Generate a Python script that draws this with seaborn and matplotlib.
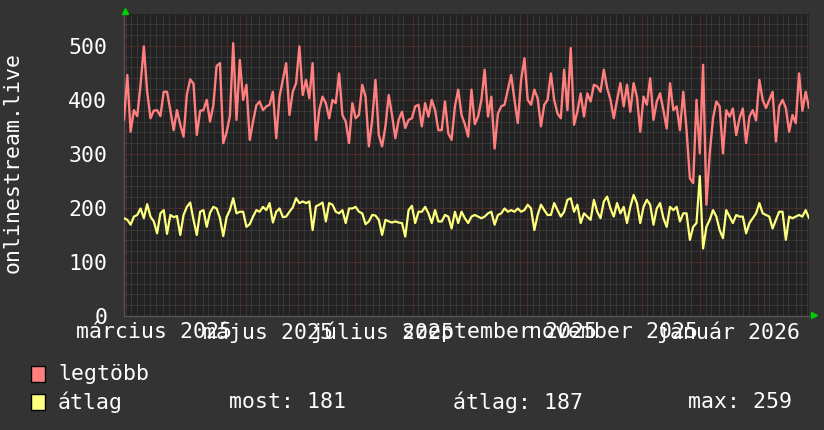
import matplotlib
matplotlib.use("Agg")
import matplotlib.pyplot as plt
import matplotlib.dates as mdates
from matplotlib.patches import Rectangle
from matplotlib.lines import Line2D
import pandas as pd
import seaborn as sns

# ---- data ----
legtobb = [
    363, 446, 341, 381, 370, 428, 499, 415, 366, 380, 381, 370, 415, 415, 381, 344, 381, 354, 332, 410,
    438, 430, 335, 380, 381, 400, 360, 390, 463, 468, 320, 340, 370, 505, 363, 474, 400, 428, 326, 360, 390,
    397, 381, 388, 391, 415, 329, 406, 437, 468, 372, 415, 431, 499, 409, 437, 403, 468, 326, 381, 406,
    394, 366, 400, 394, 449, 372, 360, 320, 394, 366, 372, 428, 406, 314, 363, 437, 335, 314, 351, 409, 372, 329,
    363, 378, 348, 363, 366, 388, 391, 351, 394, 369, 400, 381, 344, 344, 397, 338, 326, 388, 419, 372,
    355, 332, 419, 355, 369, 400, 456, 369, 406, 310, 375, 388, 391, 419, 446, 400, 357, 437, 477, 400, 391, 419,
    403, 351, 391, 400, 449, 400, 375, 366, 456, 381, 496, 354, 378, 412, 369, 412, 397, 428, 425, 415,
    456, 422, 400, 366, 400, 431, 388, 428, 378, 431, 406, 341, 406, 391, 440, 363, 397, 412, 381, 347, 431, 381,
    388, 344, 415, 344, 255, 246, 400, 301, 465, 206, 301, 366, 397, 388, 301, 381, 369, 384, 335, 366,
    384, 320, 369, 381, 362, 437, 400, 385, 400, 415, 323, 388, 400, 385, 341, 372, 357, 449, 380, 415, 385,
]
atlag = [
    181, 178, 169, 184, 187, 199, 181, 207, 184, 175, 153, 190, 196, 152, 187, 183, 185, 150, 187, 202,
    210, 178, 150, 193, 196, 165, 191, 202, 199, 181, 148, 183, 196, 218, 190, 193, 193, 165, 170, 184, 196,
    193, 202, 196, 209, 173, 193, 199, 183, 184, 193, 201, 218, 209, 212, 209, 212, 159, 203, 206, 210,
    175, 209, 206, 193, 190, 196, 172, 199, 199, 202, 193, 190, 170, 175, 187, 186, 178, 150, 178, 175, 173, 175,
    173, 172, 147, 196, 204, 172, 193, 193, 202, 190, 172, 196, 175, 175, 187, 184, 162, 193, 172, 193,
    181, 172, 184, 187, 184, 181, 184, 190, 193, 169, 187, 190, 199, 193, 196, 193, 199, 193, 196, 206, 199, 159,
    187, 206, 196, 187, 187, 209, 196, 184, 193, 215, 218, 193, 206, 172, 190, 184, 178, 215, 193, 181,
    212, 221, 199, 184, 209, 190, 202, 172, 202, 224, 209, 172, 202, 215, 206, 169, 199, 209, 181, 165, 202, 196,
    202, 175, 190, 190, 141, 165, 172, 259, 125, 165, 178, 196, 184, 159, 144, 196, 184, 172, 187, 184,
    184, 153, 172, 181, 190, 209, 190, 187, 184, 162, 178, 193, 193, 141, 184, 181, 184, 187, 184, 196, 181,
]
start_time = "2025-02-28 02:00"
end_time = "2026-02-28 02:00"
label_dates = ["2025-03-16", "2025-05-16", "2025-07-16", "2025-09-16", "2025-11-16", "2026-01-16"]
label_texts = ["március 2025", "május 2025", "július 2025", "szeptember 2025", "november 2025", "január 2026"]
y_ticks = [0, 100, 200, 300, 400, 500]
series_names = ["legtöbb", "átlag"]
stat_labels = ["most:", "átlag:", "max:"]
stat_values = [181, 187, 259]
y_title = "onlinestream.live"

# ---- style ----
sns.set_style("dark")
plt.rcParams["font.family"] = ["DejaVu Sans Mono", "DejaVu Sans"]
FS = 15.5
BG = "#333333"
PLOT_BG = "#222222"
RED = "#ff7f7f"
YEL = "#ffff7f"
MINOR_GRID = "#4a4a4a"
MAJOR_GRID = "#743232"
TXT = "#ffffff"

W, H = 824, 430
fig = plt.figure(figsize=(W / 100, H / 100), dpi=100, facecolor=BG)
x0, x1, yb, yt = 124, 809, 316, 14
ax = fig.add_axes([x0 / W, 1 - yb / H, (x1 - x0) / W, (yb - yt) / H])
ax.set_facecolor(PLOT_BG)

dates = pd.date_range(start_time, end_time, periods=len(legtobb))
df = pd.DataFrame({"date": dates, series_names[0]: legtobb, series_names[1]: atlag})

sns.lineplot(data=df, x="date", y=series_names[0], color=RED, linewidth=1.7,
             estimator=None, ax=ax, zorder=3)
sns.lineplot(data=df, x="date", y=series_names[1], color=YEL, linewidth=1.6,
             estimator=None, ax=ax, zorder=4)

ax.set_xlim(pd.Timestamp(start_time), pd.Timestamp(end_time))
ax.set_ylim(0, 559)
ax.set_xlabel("")
ax.set_ylabel("")

# grid
dot = (0, (1, 1))
ax.xaxis.set_major_locator(mdates.MonthLocator())
ax.xaxis.set_minor_locator(mdates.DayLocator(bymonthday=[4, 7, 11, 14, 17, 21, 24, 27]))
ax.xaxis.set_major_formatter(matplotlib.ticker.NullFormatter())
ax.set_yticks(y_ticks)
ax.yaxis.set_minor_locator(matplotlib.ticker.MultipleLocator(20))
ax.grid(True, which="minor", color=MINOR_GRID, linestyle=dot, linewidth=0.72, zorder=1)
ax.grid(True, which="major", color=MAJOR_GRID, linestyle=dot, linewidth=0.72, zorder=2)
ax.set_axisbelow(True)

ax.tick_params(axis="y", which="both", direction="out", length=2, width=0.72,
               color="#666666", labelsize=FS, labelcolor=TXT, pad=10)
ax.tick_params(axis="x", which="both", direction="out", length=2, width=0.72,
               color="#666666", labelbottom=False)

for s in ["top", "right"]:
    ax.spines[s].set_visible(False)
for s in ["left", "bottom"]:
    ax.spines[s].set_color("#555555")
    ax.spines[s].set_linewidth(1.0)

# month labels centred mid-month
sec = ax.secondary_xaxis("bottom")
sec.set_xticks([mdates.date2num(pd.Timestamp(d)) for d in label_dates], label_texts)
sec.tick_params(length=0, labelsize=FS, labelcolor=TXT, pad=4)
sec.spines["bottom"].set_visible(False)

# axis title
fig.text(13 / W, 1 - 163 / H, y_title, rotation=90, ha="center", va="center",
         fontsize=FS, color=TXT)

# green arrows
fig.add_artist(Line2D([125 / W], [1 - 10.5 / H], marker="^", markersize=4.5,
                      color="#00cc00", linestyle="none", transform=fig.transFigure))
fig.add_artist(Line2D([813.5 / W], [1 - 314.5 / H], marker=">", markersize=4.5,
                      color="#00cc00", linestyle="none", transform=fig.transFigure))

# legend
for i, (name, col) in enumerate(zip(series_names, [RED, YEL])):
    yc = [374, 402][i]
    fig.patches.append(Rectangle((31 / W, 1 - (yc + 8) / H), 14 / W, 16 / H,
                                 transform=fig.transFigure, facecolor=col,
                                 edgecolor="black", linewidth=1.0))
    fig.text(58 / W, 1 - yc / H, name, ha="left", va="center", fontsize=FS, color=TXT)

for lab, val, xp in zip(stat_labels, stat_values, [229, 453, 688]):
    fig.text(xp / W, 1 - 402 / H, f"{lab} {val}", ha="left", va="center",
             fontsize=FS, color=TXT)

fig.savefig("out.png", dpi=100, facecolor=BG)
